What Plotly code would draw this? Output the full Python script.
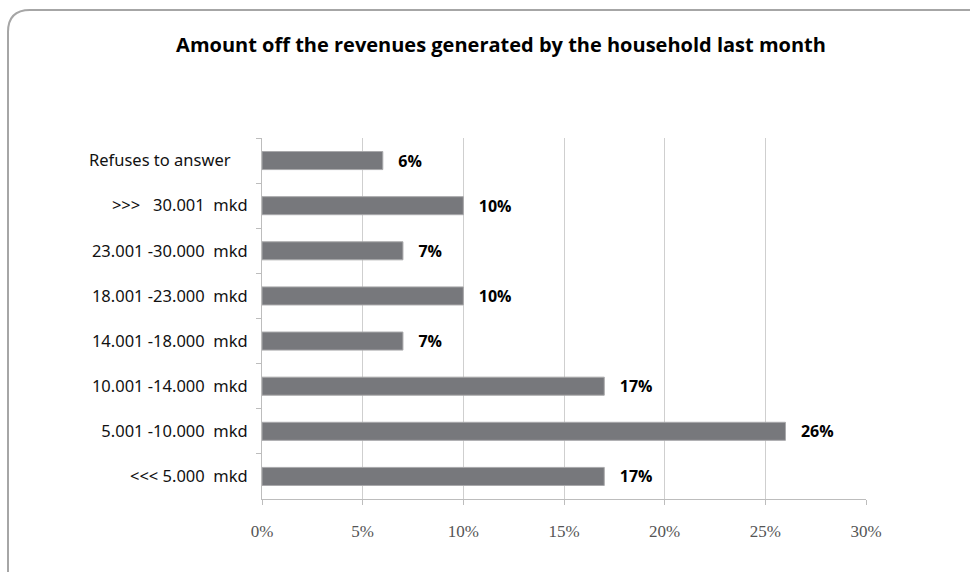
import plotly.graph_objects as go

# Household income brackets (top to bottom) and share of respondents (%)
categories = [
    "Refuses to answer\u00a0\u00a0\u00a0\u00a0",
    ">>>\u00a0\u00a0\u00a030.001\u00a0\u00a0mkd",
    "23.001\u00a0-30.000\u00a0\u00a0mkd",
    "18.001\u00a0-23.000\u00a0\u00a0mkd",
    "14.001\u00a0-18.000\u00a0\u00a0mkd",
    "10.001\u00a0-14.000\u00a0\u00a0mkd",
    "5.001\u00a0-10.000\u00a0\u00a0mkd",
    "<<<\u00a05.000\u00a0\u00a0mkd",
]
shares = [6, 10, 7, 10, 7, 17, 26, 17]
x_ticks = [0, 5, 10, 15, 20, 25, 30]
x_tick_labels = ["0%", "5%", "10%", "15%", "20%", "25%", "30%"]

W, H = 970, 572
L, R, T, B = 262, 104, 138, 73

fig = go.Figure(
    go.Bar(
        x=shares,
        y=categories,
        orientation="h",
        width=0.4,
        marker=dict(color="#77787c", line=dict(color="#a9a9ab", width=1)),
        text=[f"\u00a0\u00a0\u00a0{v}%" for v in shares],
        textposition="outside",
        constraintext="none",
        cliponaxis=False,
        textfont=dict(family="Open Sans", size=16, color="#000000", weight="bold"),
        hoverinfo="skip",
    )
)

# Rounded frame around the chart (top-left corner visible)
pw, ph = W - L - R, H - T - B
def px(xp):
    return (xp - L) / pw
def py(yp):
    return (H - B - yp) / ph

frame = (
    f"M {px(8)} {py(580)} L {px(8)} {py(32)} "
    f"Q {px(8)} {py(10)} {px(30)} {py(10)} L {px(980)} {py(10)}"
)

fig.update_layout(
    width=W,
    height=H,
    margin=dict(l=L, r=R, t=T, b=B),
    paper_bgcolor="white",
    plot_bgcolor="white",
    showlegend=False,
    bargap=0.6,
    title=dict(
        text="<b>Amount off the revenues generated by the household last month</b>",
        x=501 / W,
        xref="container",
        xanchor="center",
        y=1 - 45 / H,
        yanchor="middle",
        font=dict(family="Open Sans", size=20, color="#000000"),
    ),
    xaxis=dict(
        range=[0, 30],
        tickvals=x_ticks,
        ticktext=x_tick_labels,
        showgrid=True,
        gridcolor="#cfcfcf",
        gridwidth=1,
        showline=True,
        linecolor="#bdbdbd",
        linewidth=1,
        ticks="outside",
        ticklen=5,
        tickcolor="#bdbdbd",
        ticklabelstandoff=12,
        tickfont=dict(family="Liberation Serif", size=17, color="#555555"),
        zeroline=False,
        fixedrange=True,
    ),
    yaxis=dict(
        autorange="reversed",
        type="category",
        showline=True,
        linecolor="#bdbdbd",
        linewidth=1,
        ticks="outside",
        ticklen=5,
        tickcolor="#bdbdbd",
        tickson="boundaries",
        ticklabelstandoff=10,
        tickfont=dict(family="Noto Sans", size=16.5, color="#111111"),
        showgrid=False,
        fixedrange=True,
    ),
    shapes=[
        dict(
            type="path",
            path=frame,
            xref="paper",
            yref="paper",
            line=dict(color="#a6a6a6", width=2),
            layer="above",
        )
    ],
)

fig.write_html("out.html")
